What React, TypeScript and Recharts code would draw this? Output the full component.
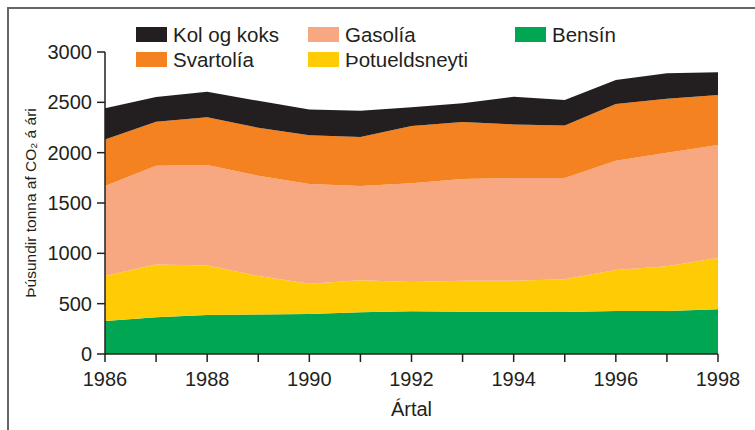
import React from 'react';
import { AreaChart, Area, XAxis, YAxis } from 'recharts';

const years = [1986, 1987, 1988, 1989, 1990, 1991, 1992, 1993, 1994, 1995, 1996, 1997, 1998];
const bensin = [328, 364, 388, 392, 397, 414, 424, 420, 420, 417, 427, 427, 444];
const thotueldsneyti = [447, 526, 492, 384, 301, 318, 291, 308, 308, 325, 407, 444, 509];
const gasolia = [893, 980, 997, 994, 990, 936, 980, 1010, 1020, 1006, 1086, 1128, 1122];
const svartolia = [464, 437, 476, 477, 484, 487, 569, 566, 533, 523, 563, 536, 497];
const kolOgKoks = [308, 245, 252, 268, 258, 261, 186, 186, 274, 251, 238, 255, 228];
const yTicks = [0, 500, 1000, 1500, 2000, 2500, 3000];

// stacked bottom to top
const series = [
  { key: 'bensin', name: 'Bensín', color: '#00a651', values: bensin },
  { key: 'thotu', name: 'Þotueldsneyti', color: '#ffcb05', values: thotueldsneyti },
  { key: 'gasolia', name: 'Gasolía', color: '#f7a880', values: gasolia },
  { key: 'svartolia', name: 'Svartolía', color: '#f58220', values: svartolia },
  { key: 'kol', name: 'Kol og koks', color: '#231f20', values: kolOgKoks },
];

const data = years.map((year, i) => {
  const row: Record<string, number> = { year };
  series.forEach((s) => {
    row[s.key] = s.values[i];
  });
  return row;
});

const FONT = '"Liberation Sans", Arial, Helvetica, sans-serif';
const INK = '#231f20';

const legendOrder = ['kol', 'svartolia', 'gasolia', 'thotu', 'bensin'];
const legendCols = [136, 308, 515];
const legendRows = [27, 52];

const ChartLegend = () => (
  <>
    {legendOrder.map((key, i) => {
      const s = series.find((x) => x.key === key)!;
      const left = legendCols[Math.floor(i / 2)];
      const top = legendRows[i % 2];
      return (
        <div key={key} style={{ position: 'absolute', left, top, display: 'flex', alignItems: 'center', height: 15 }}>
          <div style={{ width: 31, height: 15, background: s.color }} />
          <span style={{ marginLeft: 6, fontSize: 20.5, color: INK, fontFamily: FONT, lineHeight: '15px', whiteSpace: 'nowrap' }}>
            {s.name}
          </span>
        </div>
      );
    })}
  </>
);

export default function App() {
  return (
    <div style={{ position: 'absolute', left: 0, top: 0, width: 755, height: 430, background: '#fff' }}>
      <div
        style={{
          position: 'absolute',
          left: 7,
          top: 7,
          right: 0,
          bottom: 0,
          borderTop: '2px solid #666',
          borderLeft: '2px solid #666',
        }}
      />
      <div style={{ position: 'absolute', left: 0, top: 0 }}>
        <AreaChart
          width={755}
          height={430}
          data={data}
          margin={{ top: 52, right: 37, left: 0, bottom: 14 }}
          style={{ fontFamily: FONT }}
        >
          <XAxis
            dataKey="year"
            type="number"
            domain={[1986, 1998]}
            ticks={years}
            interval={0}
            tickFormatter={(v) => (v % 2 === 0 ? String(v) : '')}
            tick={{ fontSize: 20, fill: INK }}
            tickSize={8}
            tickMargin={10}
            axisLine={{ stroke: INK, strokeWidth: 1.5 }}
            tickLine={{ stroke: INK, strokeWidth: 1.5 }}
            height={62}
            label={{ value: 'Ártal', position: 'insideBottom', offset: 0, fontSize: 20, fill: INK }}
          />
          <YAxis
            type="number"
            domain={[0, 3000]}
            ticks={yTicks}
            interval={0}
            width={105}
            tick={{ fontSize: 20, fill: INK }}
            tickSize={8}
            tickMargin={5}
            axisLine={{ stroke: INK, strokeWidth: 1.5 }}
            tickLine={{ stroke: INK, strokeWidth: 1.5 }}
            label={{
              value: 'Þúsundir tonna af CO₂ á ári',
              angle: -90,
              position: 'center',
              dx: -22,
              fontSize: 15.5,
              fill: INK,
            }}
          />
          {series.map((s) => (
            <Area
              key={s.key}
              type="linear"
              dataKey={s.key}
              name={s.name}
              stackId="co2"
              stroke="none"
              fill={s.color}
              fillOpacity={1}
              isAnimationActive={false}
            />
          ))}
        </AreaChart>
      </div>
      <ChartLegend />
    </div>
  );
}
